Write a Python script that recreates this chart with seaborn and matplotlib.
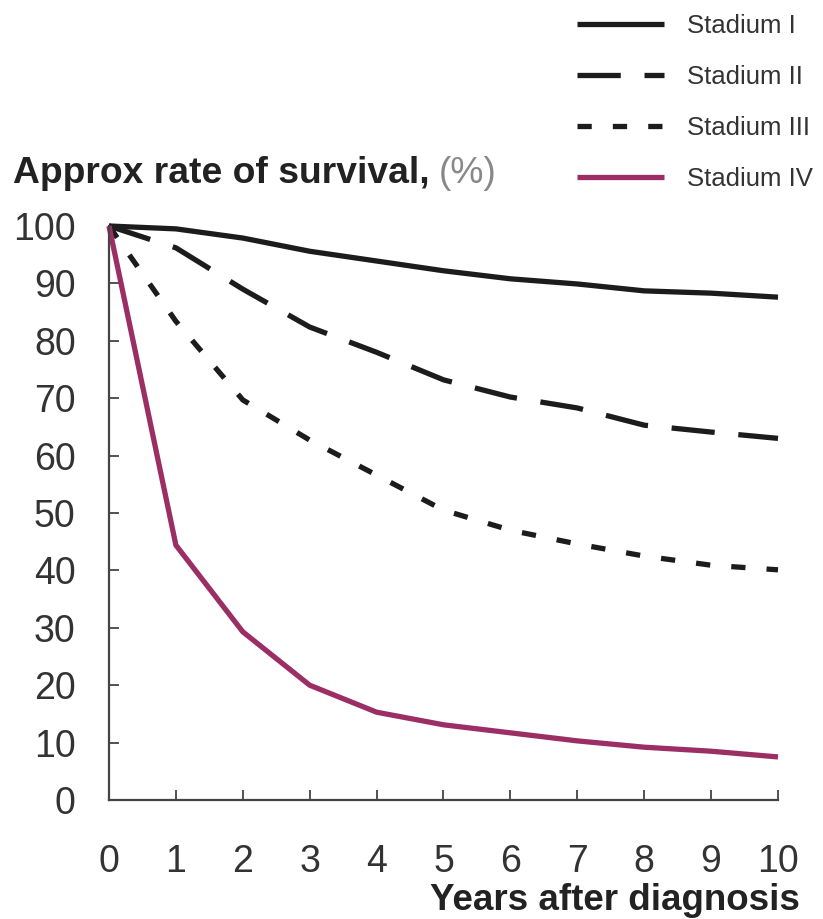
import matplotlib
matplotlib.use("Agg")
import matplotlib.pyplot as plt
import seaborn as sns
import pandas as pd

years = [0, 1, 2, 3, 4, 5, 6, 7, 8, 9, 10]
stadium_1 = [100, 99.5, 97.9, 95.6, 93.9, 92.2, 90.8, 89.9, 88.7, 88.3, 87.6]
stadium_2 = [100, 96.2, 89.0, 82.4, 78.0, 73.2, 70.2, 68.3, 65.3, 64.1, 63.0]
stadium_3 = [100, 83.4, 69.7, 62.7, 56.6, 50.5, 47.0, 44.6, 42.5, 40.9, 40.1]
stadium_4 = [100, 44.4, 29.3, 20.0, 15.3, 13.1, 11.7, 10.3, 9.2, 8.5, 7.5]
stages = ["Stadium I", "Stadium II", "Stadium III", "Stadium IV"]
y_ticks = [0, 10, 20, 30, 40, 50, 60, 70, 80, 90, 100]

rows = []
for name, vals in zip(stages, [stadium_1, stadium_2, stadium_3, stadium_4]):
    for yr, v in zip(years, vals):
        rows.append({"year": yr, "rate": v, "stage": name})
df = pd.DataFrame(rows)

sns.set_theme(style="white")
plt.rcParams["font.family"] = ["Liberation Sans", "DejaVu Sans"]

fig = plt.figure(figsize=(8.23, 9.19), dpi=100)
ax = fig.add_axes([109/823, 1 - 800/919, (778 - 109)/823, (800 - 226)/919])

palette = {"Stadium I": "#1c1c1c", "Stadium II": "#1c1c1c",
           "Stadium III": "#1c1c1c", "Stadium IV": "#9b2f65"}
dashes = {"Stadium I": "", "Stadium II": (8.2, 4.5),
          "Stadium III": (2.7, 4.0), "Stadium IV": ""}

sns.lineplot(data=df, x="year", y="rate", hue="stage", style="stage",
             palette=palette, dashes=dashes, linewidth=3.8, ax=ax,
             hue_order=stages, style_order=stages)
for ln in ax.get_lines():
    ln.set_clip_on(False)
    ln.set_solid_capstyle("butt")
    ln.set_dash_capstyle("butt")

ax.set_xlim(0, 10)
ax.set_ylim(0, 100)
ax.set_xticks(years)
ax.set_yticks(y_ticks)
ax.set_xlabel("")
ax.set_ylabel("")
for s in ["top", "right"]:
    ax.spines[s].set_visible(False)
for s in ["left", "bottom"]:
    ax.spines[s].set_color("#444444")
    ax.spines[s].set_linewidth(1.6)
ax.tick_params(axis="both", which="major", bottom=True, left=True,
               direction="in", length=7.5, width=1.3, color="#444444",
               labelsize=27, labelcolor="#333333")
ax.tick_params(axis="x", pad=32)
ax.tick_params(axis="y", pad=24)

handles, labels = ax.get_legend_handles_labels()
if ax.get_legend():
    ax.get_legend().remove()
leg = fig.legend(handles, labels, loc="upper left",
                 bbox_to_anchor=(577/823, 0.985), frameon=False,
                 fontsize=18.5, handlelength=3.4, handletextpad=0.9,
                 labelspacing=1.05, borderpad=0, borderaxespad=0)
for t in leg.get_texts():
    t.set_color("#333333")

t1 = fig.text(13/823, 1 - 183/919, "Approx rate of survival,", fontsize=26.8,
              fontweight="bold", color="#222222", ha="left", va="baseline")
fig.canvas.draw()
bb = t1.get_window_extent()
fig.text((bb.x1 + 9)/823, 1 - 183/919, "(%)", fontsize=26.8, color="#888888",
         ha="left", va="baseline")

fig.text(800/823, 1 - 910/919, "Years after diagnosis", fontsize=26.5,
         fontweight="bold", color="#222222", ha="right", va="baseline")

fig.savefig("out.png", dpi=100)
